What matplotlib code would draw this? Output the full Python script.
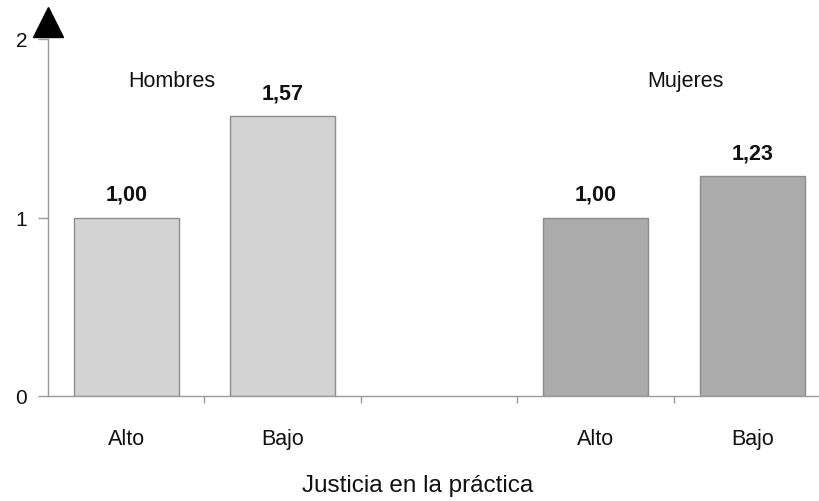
import matplotlib
matplotlib.use("Agg")
import matplotlib.pyplot as plt
from matplotlib import transforms

plt.rcParams['font.family'] = ['Liberation Sans', 'DejaVu Sans']

# Data
categories = ["Alto", "Bajo", "", "Alto", "Bajo"]
values = [1.00, 1.57, None, 1.00, 1.23]
value_labels = ["1,00", "1,57", "", "1,00", "1,23"]
groups = ["Hombres", "Mujeres"]
group_pos = [0.29, 3.57]
colors = ["#d3d3d3", "#d3d3d3", None, "#ababab", "#ababab"]

fig = plt.figure(figsize=(8.2, 5.02), dpi=100)
ax = fig.add_axes([48 / 820, 1 - 397 / 502, 1 - 48 / 820, (397 - 40) / 502])

for i, (v, c, lab) in enumerate(zip(values, colors, value_labels)):
    if v is None:
        continue
    ax.bar(i, v, width=0.67, color=c, edgecolor="#8c8c8c", linewidth=1.0, zorder=2)
    ax.annotate(lab, (i, v), xytext=(0, 9), textcoords="offset points",
                ha="center", va="bottom", fontsize=15.5, fontweight="bold", color="#111111")

for g, x in zip(groups, group_pos):
    ax.text(x, 1.77, g, ha="center", va="center", fontsize=15.5, color="#111111")

ax.set_xlim(-0.5, (820 - 48) / 156.5 - 0.5)
ax.set_ylim(0, 2)

ax.set_xticks([0, 1, 3, 4])
ax.set_xticklabels(["Alto", "Bajo", "Alto", "Bajo"], fontsize=15.5, color="#111111")
ax.set_xticks([0.5, 1.5, 2.5, 3.5], minor=True)
ax.tick_params(axis="x", which="major", length=0, pad=23)
ax.tick_params(axis="x", which="minor", length=5, color="#9a9a9a", width=1)

ax.set_yticks([0, 1, 2])
ax.set_yticklabels(["0", "1", "2"], fontsize=15, color="#111111")
ax.tick_params(axis="y", length=7, color="#9a9a9a", width=1, pad=8)

ax.set_xlabel("Justicia en la práctica", fontsize=17.5, color="#111111")
ax.xaxis.set_label_coords(0.479, -0.218)

for s in ["top", "right"]:
    ax.spines[s].set_visible(False)
for s in ["left", "bottom"]:
    ax.spines[s].set_color("#9a9a9a")
    ax.spines[s].set_linewidth(1.0)

# Arrow head on top of the y axis
tr = transforms.offset_copy(ax.transAxes, fig=fig, x=0, y=12, units="points")
ax.plot([0], [1.0], marker="^", markersize=21, color="black", transform=tr, clip_on=False)

fig.savefig("out.png", dpi=100)
